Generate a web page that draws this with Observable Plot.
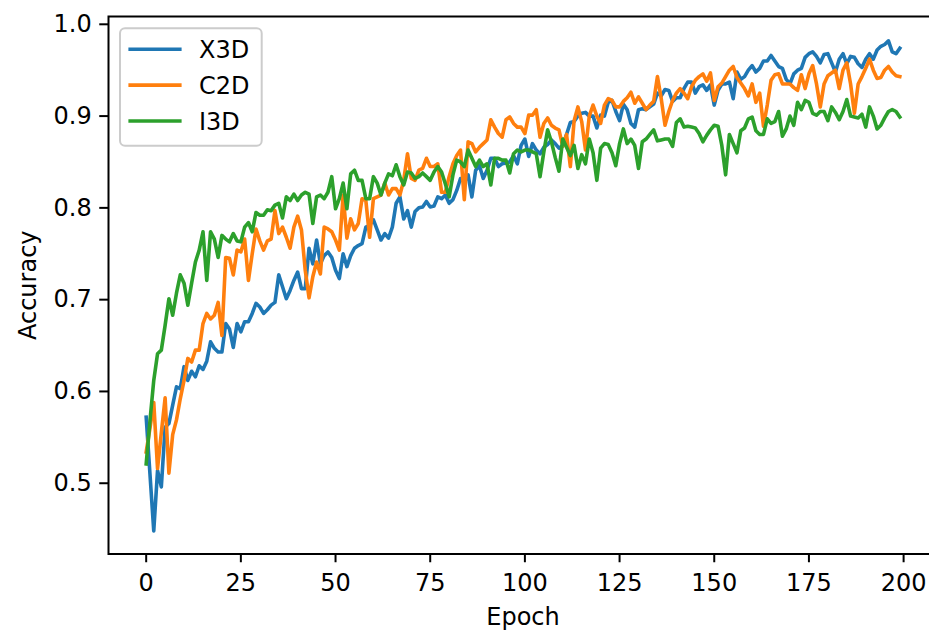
<!DOCTYPE html>
<html>
<head>
<meta charset="utf-8">
<script src="https://cdn.jsdelivr.net/npm/d3@7"></script>
<script src="https://cdn.jsdelivr.net/npm/@observablehq/plot@0.6"></script>
<style>
  html, body { margin: 0; padding: 0; background: #fff; overflow: hidden; }
  #chart { width: 929px; height: 631px; overflow: hidden; }
  #chart svg { max-width: none !important; display: block; }
</style>
</head>
<body>
<div id="chart"></div>
<script>
const seriesNames = ["X3D", "C2D", "I3D"];
const seriesColors = ["#1f77b4", "#ff7f0e", "#2ca02c"];
const xTicks = [0, 25, 50, 75, 100, 125, 150, 175, 200];
const yTicks = [0.5, 0.6, 0.7, 0.8, 0.9, 1.0];
const xLabel = "Epoch";
const yLabel = "Accuracy";

const x3d = [
  0.572, 0.510, 0.448, 0.514, 0.496, 0.561, 0.565, 0.585, 0.605, 0.603,
  0.627, 0.612, 0.622, 0.616, 0.628, 0.624, 0.633, 0.654, 0.647, 0.643,
  0.643, 0.674, 0.668, 0.648, 0.674, 0.665, 0.676, 0.676, 0.685, 0.696,
  0.692, 0.685, 0.689, 0.694, 0.697, 0.727, 0.714, 0.701, 0.710, 0.721,
  0.730, 0.712, 0.712, 0.756, 0.739, 0.765, 0.739, 0.748, 0.752, 0.746,
  0.732, 0.723, 0.750, 0.736, 0.748, 0.756, 0.759, 0.761, 0.779, 0.781,
  0.787, 0.776, 0.765, 0.772, 0.767, 0.779, 0.805, 0.812, 0.788, 0.797,
  0.779, 0.796, 0.800, 0.801, 0.807, 0.801, 0.802, 0.812, 0.810, 0.814,
  0.805, 0.809, 0.819, 0.832, 0.828, 0.836, 0.812, 0.841, 0.846, 0.832,
  0.841, 0.854, 0.854, 0.845, 0.848, 0.849, 0.850, 0.857, 0.848, 0.868,
  0.875, 0.856, 0.870, 0.863, 0.859, 0.866, 0.869, 0.874, 0.870, 0.865,
  0.868, 0.880, 0.893, 0.894, 0.900, 0.903, 0.904, 0.900, 0.900, 0.887,
  0.901, 0.900, 0.915, 0.917, 0.905, 0.895, 0.913, 0.907, 0.892, 0.888,
  0.907, 0.908, 0.907, 0.910, 0.913, 0.925, 0.922, 0.929, 0.928, 0.916,
  0.920, 0.920, 0.930, 0.937, 0.937, 0.925, 0.932, 0.934, 0.928, 0.934,
  0.912, 0.928, 0.935, 0.935, 0.937, 0.919, 0.948, 0.940, 0.943, 0.950,
  0.955, 0.948, 0.952, 0.960, 0.960, 0.966, 0.960, 0.954, 0.952, 0.940,
  0.935, 0.946, 0.950, 0.952, 0.964, 0.968, 0.970, 0.965, 0.958, 0.967,
  0.968, 0.958, 0.948, 0.962, 0.968, 0.957, 0.965, 0.964, 0.957, 0.953,
  0.962, 0.968, 0.962, 0.972, 0.976, 0.978, 0.982, 0.970, 0.968, 0.974
];

const c2d = [
  0.534, 0.560, 0.588, 0.516, 0.555, 0.593, 0.511, 0.553, 0.569, 0.592,
  0.612, 0.636, 0.632, 0.645, 0.645, 0.674, 0.685, 0.679, 0.683, 0.697,
  0.661, 0.746, 0.745, 0.727, 0.754, 0.752, 0.766, 0.721, 0.750, 0.777,
  0.764, 0.754, 0.764, 0.766, 0.797, 0.772, 0.779, 0.768, 0.756, 0.779,
  0.791, 0.776, 0.732, 0.702, 0.725, 0.741, 0.728, 0.779, 0.777, 0.774,
  0.765, 0.754, 0.814, 0.767, 0.788, 0.776, 0.783, 0.810, 0.808, 0.768,
  0.810, 0.812, 0.814, 0.827, 0.814, 0.821, 0.821, 0.814, 0.830, 0.859,
  0.832, 0.830, 0.841, 0.843, 0.854, 0.845, 0.845, 0.848, 0.817, 0.817,
  0.834, 0.848, 0.857, 0.863, 0.809, 0.872, 0.870, 0.861, 0.866, 0.870,
  0.874, 0.896, 0.888, 0.881, 0.877, 0.896, 0.899, 0.892, 0.888, 0.888,
  0.881, 0.901, 0.901, 0.907, 0.877, 0.892, 0.898, 0.890, 0.887, 0.885,
  0.867, 0.880, 0.845, 0.895, 0.910, 0.894, 0.863, 0.900, 0.912, 0.900,
  0.892, 0.912, 0.919, 0.917, 0.910, 0.910, 0.916, 0.920, 0.926, 0.914,
  0.921, 0.914, 0.907, 0.912, 0.916, 0.943, 0.919, 0.890, 0.905, 0.917,
  0.925, 0.930, 0.925, 0.919, 0.932, 0.939, 0.943, 0.946, 0.938, 0.947,
  0.917, 0.932, 0.936, 0.943, 0.950, 0.954, 0.942, 0.936, 0.930, 0.922,
  0.935, 0.915, 0.925, 0.889, 0.912, 0.939, 0.945, 0.946, 0.935, 0.935,
  0.935, 0.931, 0.928, 0.945, 0.930, 0.946, 0.955, 0.935, 0.910, 0.935,
  0.944, 0.947, 0.950, 0.930, 0.950, 0.958, 0.935, 0.903, 0.935, 0.943,
  0.952, 0.962, 0.950, 0.941, 0.942, 0.950, 0.954, 0.948, 0.944, 0.943
];

const i3d = [
  0.521, 0.568, 0.612, 0.641, 0.645, 0.672, 0.701, 0.683, 0.707, 0.727,
  0.718, 0.694, 0.718, 0.741, 0.754, 0.774, 0.721, 0.774, 0.766, 0.746,
  0.770, 0.766, 0.763, 0.772, 0.764, 0.763, 0.779, 0.784, 0.774, 0.795,
  0.792, 0.792, 0.798, 0.797, 0.803, 0.805, 0.789, 0.812, 0.808, 0.815,
  0.808, 0.814, 0.817, 0.815, 0.783, 0.812, 0.814, 0.810, 0.817, 0.834,
  0.799, 0.810, 0.827, 0.799, 0.837, 0.841, 0.830, 0.830, 0.810, 0.810,
  0.834, 0.827, 0.814, 0.827, 0.837, 0.835, 0.847, 0.834, 0.825, 0.839,
  0.838, 0.832, 0.834, 0.838, 0.834, 0.830, 0.839, 0.845, 0.839, 0.826,
  0.812, 0.836, 0.852, 0.850, 0.845, 0.863, 0.854, 0.845, 0.852, 0.845,
  0.848, 0.825, 0.854, 0.854, 0.852, 0.852, 0.838, 0.859, 0.863, 0.861,
  0.863, 0.863, 0.861, 0.859, 0.834, 0.861, 0.885, 0.872, 0.855, 0.840,
  0.875, 0.866, 0.857, 0.868, 0.843, 0.858, 0.848, 0.875, 0.860, 0.830,
  0.865, 0.870, 0.869, 0.860, 0.846, 0.870, 0.886, 0.870, 0.875, 0.868,
  0.843, 0.872, 0.875, 0.880, 0.885, 0.873, 0.874, 0.875, 0.875, 0.867,
  0.893, 0.897, 0.888, 0.889, 0.888, 0.887, 0.881, 0.872, 0.879, 0.885,
  0.890, 0.889, 0.868, 0.836, 0.880, 0.870, 0.860, 0.884, 0.887, 0.897,
  0.899, 0.884, 0.880, 0.880, 0.897, 0.892, 0.894, 0.905, 0.878, 0.886,
  0.900, 0.890, 0.915, 0.907, 0.917, 0.915, 0.903, 0.901, 0.905, 0.905,
  0.895, 0.910, 0.904, 0.896, 0.905, 0.918, 0.900, 0.899, 0.898, 0.902,
  0.888, 0.910, 0.900, 0.886, 0.890, 0.898, 0.905, 0.907, 0.905, 0.899
];

const seriesValues = [x3d, c2d, i3d];
const rows = [];
seriesNames.forEach((name, s) => {
  seriesValues[s].forEach((v, i) => rows.push({epoch: i, acc: v, model: name}));
});

const FONT = 24;
const plot = Plot.plot({
  width: 940,
  height: 631,
  marginLeft: 108,
  marginRight: 3,
  marginTop: 16,
  marginBottom: 77.5,
  style: {fontFamily: "DejaVu Sans", fontSize: FONT + "px", background: "white", color: "black", overflow: "visible", maxWidth: "none"},
  x: {domain: [-9.95, 208.95], label: null},
  y: {domain: [0.4229, 1.0085], label: null},
  color: {domain: seriesNames, range: seriesColors},
  marks: [
    Plot.axisX({ticks: xTicks, tickSize: 8.75, tickPadding: 11, strokeWidth: 2, label: null, tickFormat: d => String(d), fontSize: FONT}),
    Plot.axisY({ticks: yTicks, tickSize: 8.75, tickPadding: 8, strokeWidth: 2, label: null, tickFormat: d3.format(".1f"), fontSize: FONT}),
    Plot.line(rows, {x: "epoch", y: "acc", stroke: "model", z: "model", strokeWidth: 3.6, strokeLinejoin: "round", strokeLinecap: "square"}),
    Plot.frame({stroke: "black", strokeWidth: 2}),
    Plot.text([xLabel], {frameAnchor: "bottom", dy: 63.8, text: d => d, fontSize: FONT, fill: "black", textAnchor: "middle", lineAnchor: "middle"}),
    Plot.text([yLabel], {frameAnchor: "left", dx: -79.7, rotate: -90, text: d => d, fontSize: FONT, fill: "black", textAnchor: "middle", lineAnchor: "middle"})
  ]
});
plot.style.maxWidth = "none";

// legend (upper-left, matplotlib style)
const svg = d3.select(plot);
const lg = svg.append("g")
  .attr("font-family", "DejaVu Sans")
  .attr("font-size", FONT)
  .attr("text-anchor", "start");
lg.append("rect")
  .attr("x", 120).attr("y", 28.3).attr("width", 141.7).attr("height", 117.4)
  .attr("rx", 5).attr("ry", 5)
  .attr("fill", "white").attr("fill-opacity", 0.8)
  .attr("stroke", "#cccccc").attr("stroke-width", 2);
seriesNames.forEach((name, i) => {
  const cy = 49.3 + 35.85 * i;
  lg.append("line")
    .attr("x1", 130.2).attr("x2", 179.8).attr("y1", cy).attr("y2", cy)
    .attr("stroke", seriesColors[i]).attr("stroke-width", 3.6).attr("stroke-linecap", "square");
  lg.append("text")
    .attr("x", 199).attr("y", cy).attr("dy", "0.36em")
    .attr("text-anchor", "start")
    .attr("fill", "black").text(name);
});

document.getElementById("chart").appendChild(plot);
</script>
</body>
</html>
